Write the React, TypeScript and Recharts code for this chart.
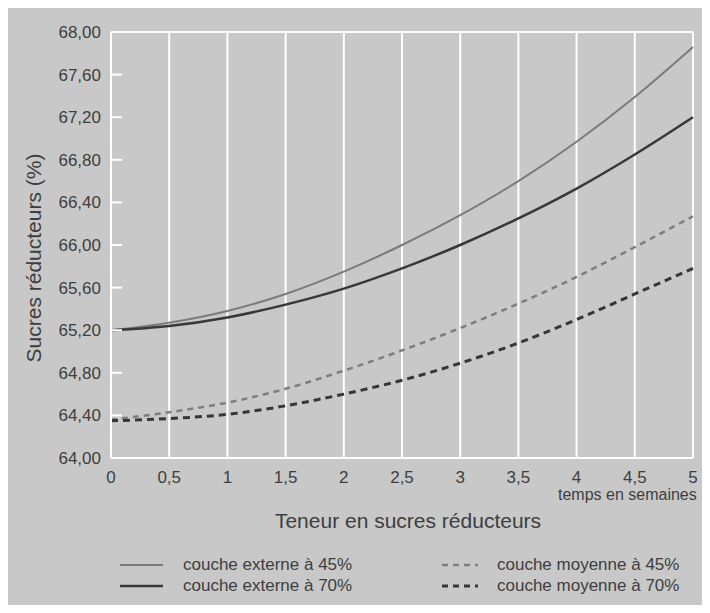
import { LineChart, Line, XAxis, YAxis, CartesianGrid, ReferenceLine } from "recharts";

const weeks = [0, 0.5, 1, 1.5, 2, 2.5, 3, 3.5, 4, 4.5, 5];
const externe45 = [65.2, 65.27, 65.38, 65.54, 65.75, 66.0, 66.28, 66.6, 66.97, 67.39, 67.86];
const externe70 = [65.2, 65.24, 65.32, 65.44, 65.59, 65.78, 66.0, 66.25, 66.53, 66.85, 67.2];
const moyenne45 = [64.36, 64.43, 64.52, 64.65, 64.82, 65.01, 65.22, 65.45, 65.7, 65.98, 66.27];
const moyenne70 = [64.35, 64.37, 64.41, 64.49, 64.6, 64.73, 64.89, 65.08, 65.3, 65.54, 65.78];
const yTicks = [64, 64.4, 64.8, 65.2, 65.6, 66, 66.4, 66.8, 67.2, 67.6, 68];

const series = [
  { key: "e45", name: "couche externe à 45%", color: "#7b7b7b", width: 2, dash: undefined },
  { key: "e70", name: "couche externe à 70%", color: "#383838", width: 2.5, dash: undefined },
  { key: "m45", name: "couche moyenne à 45%", color: "#7e7e7e", width: 2.5, dash: "6 5" },
  { key: "m70", name: "couche moyenne à 70%", color: "#363636", width: 3, dash: "7 5" },
];

const data = weeks.map((w, i) => ({
  w,
  e45: externe45[i],
  e70: externe70[i],
  m45: moyenne45[i],
  m70: moyenne70[i],
}));

const FONT = '"Liberation Sans", Arial, sans-serif';
const TEXT = "#3e3e3e";
const BG = "#c8c8c8";

const fr = (v: number, d: number) => v.toFixed(d).replace(".", ",");

function YTick({ x, y, payload }: any) {
  return (
    <g>
      <line x1={x + 10} x2={x + 21} y1={y} y2={y} stroke="#fff" strokeWidth={2} />
      <text x={x} y={y} dy="0.35em" textAnchor="end" fill={TEXT} fontSize={17} fontFamily={FONT}>
        {fr(payload.value, 2)}
      </text>
    </g>
  );
}

function LegendItem({ s, left, top, swatchW }: any) {
  return (
    <div style={{ position: "absolute", left, top, display: "flex", alignItems: "center", height: 21 }}>
      <svg width={swatchW} height={6} style={{ marginRight: left < 300 ? 20 : 19 }}>
        <line
          x1={0}
          x2={swatchW}
          y1={3}
          y2={3}
          stroke={s.color}
          strokeWidth={s.width}
          strokeDasharray={s.dash ? "6 5" : undefined}
        />
      </svg>
      <span style={{ fontSize: 17, color: TEXT, fontFamily: FONT, whiteSpace: "nowrap" }}>{s.name}</span>
    </div>
  );
}

export default function App() {
  return (
    <div style={{ position: "relative", width: 710, height: 613, margin: -8, background: "#f4f4f4", overflow: "hidden" }}>
      <div style={{ position: "absolute", left: 4, top: 5, width: 700, height: 608, background: BG }} />
      <div style={{ position: "absolute", left: 0, top: 0 }}>
        <LineChart
          width={710}
          height={613}
          data={data}
          margin={{ top: 32, right: 17, bottom: 125, left: 0 }}
        >
          <CartesianGrid horizontal={false} stroke="#fff" strokeWidth={2} />
          <ReferenceLine y={68} stroke="#fff" strokeWidth={2} />
          <XAxis
            dataKey="w"
            type="number"
            domain={[0, 5]}
            ticks={weeks}
            height={30}
            tickSize={0}
            tickMargin={13}
            tickFormatter={(v: number) => fr(v, v % 1 === 0 ? 0 : 1)}
            axisLine={{ stroke: "#fff", strokeWidth: 2 }}
            tickLine={false}
            tick={{ fill: TEXT, fontSize: 17, fontFamily: FONT }}
          />
          <YAxis
            type="number"
            domain={[64, 68]}
            ticks={yTicks}
            width={111}
            tickSize={0}
            tickMargin={10}
            axisLine={{ stroke: "#fff", strokeWidth: 2 }}
            tickLine={false}
            tick={<YTick />}
            interval={0}
          />
          {series.map((s) => (
            <Line
              key={s.key}
              dataKey={s.key}
              name={s.name}
              type="monotone"
              stroke={s.color}
              strokeWidth={s.width}
              strokeDasharray={s.dash}
              dot={false}
              activeDot={false}
              isAnimationActive={false}
            />
          ))}
        </LineChart>
      </div>
      <div
        style={{
          position: "absolute",
          left: 34,
          top: 258,
          transform: "translate(-50%, -50%) rotate(-90deg)",
          fontSize: 21,
          color: TEXT,
          fontFamily: FONT,
          whiteSpace: "nowrap",
        }}
      >
        Sucres réducteurs (%)
      </div>
      <div
        style={{
          position: "absolute",
          left: 558,
          top: 486,
          fontSize: 16,
          color: TEXT,
          fontFamily: FONT,
          whiteSpace: "nowrap",
        }}
      >
        temps en semaines
      </div>
      <div
        style={{
          position: "absolute",
          left: 408,
          top: 521,
          transform: "translate(-50%, -50%)",
          fontSize: 21,
          color: TEXT,
          fontFamily: FONT,
          whiteSpace: "nowrap",
        }}
      >
        Teneur en sucres réducteurs
      </div>
      <LegendItem s={series[0]} left={120} top={554} swatchW={43} />
      <LegendItem s={series[1]} left={120} top={575} swatchW={43} />
      <LegendItem s={series[2]} left={442} top={554} swatchW={36} />
      <LegendItem s={series[3]} left={442} top={575} swatchW={36} />
    </div>
  );
}
